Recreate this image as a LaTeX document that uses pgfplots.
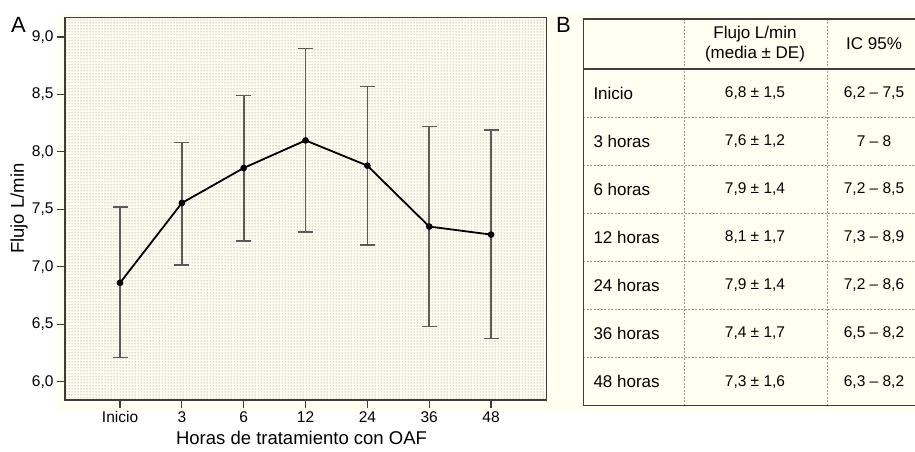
\documentclass[border=0pt]{standalone}
\usepackage{fontspec}
\setmainfont{Liberation Sans}
\usepackage{pgfplots}
\usepackage{pgfplotstable}
\pgfplotsset{compat=1.18}
\usetikzlibrary{patterns}

\definecolor{crema}{RGB}{255,255,242}
\definecolor{linea}{RGB}{60,60,60}
\definecolor{barra}{RGB}{90,90,90}
\definecolor{punteo}{RGB}{150,150,150}
\definecolor{puntos}{RGB}{115,115,110}

% media, error hacia arriba, error hacia abajo (L/min)
\pgfplotstableread{
x  y      ep     em
0  6.86   0.66   0.65
1  7.555  0.525  0.54
2  7.86   0.63   0.635
3  8.10   0.80   0.80
4  7.88   0.69   0.69
5  7.35   0.87   0.87
6  7.28   0.91   0.905
}\flujo

\newcommand{\fsTick}{\fontsize{15.5}{18}\selectfont}
\newcommand{\fsLab}{\fontsize{18.5}{21}\selectfont}
\newcommand{\fsTab}{\fontsize{17}{20}\selectfont}
\newcommand{\fsNum}{\fontsize{15.5}{18}\selectfont}

\begin{document}
\begin{tikzpicture}
\useasboundingbox (0,0) rectangle (915pt,452pt);
\fill[crema] (57pt,40pt) rectangle (915pt,439pt);

\begin{axis}[
  at={(65pt,52pt)}, anchor=south west,
  scale only axis, width=481.7pt, height=382.5pt,
  xmin=-0.89, xmax=6.9, ymin=5.84, ymax=9.17,
  axis background/.style={fill=crema, postaction={pattern=dots, pattern color=puntos}},
  axis line style={draw=linea, line width=1.2pt},
  tick style={draw=linea, line width=1.2pt},
  tick align=outside, major tick length=8pt,
  xtick pos=bottom, ytick pos=left,
  xtick={0,...,6}, xticklabels={Inicio,3,6,12,24,36,48},
  ytick={6,6.5,...,9},
  yticklabel style={/pgf/number format/.cd, use comma, fixed, fixed zerofill, precision=1, assume math mode=true},
  tick label style={font=\fsTick},
  xlabel={Horas de tratamiento con OAF},
  ylabel={Flujo L/min},
  every axis x label/.style={at={(axis description cs:0.491,-0.0993)}, anchor=center, font=\fsLab},
  every axis y label/.style={at={(axis description cs:-0.0955,0.5)}, rotate=90, anchor=center, font=\fsLab},
]
\addplot[draw=none, mark=none, forget plot,
  error bars/.cd, y dir=both, y explicit,
  error bar style={draw=barra, line width=1.6pt},
  error mark options={rotate=90, mark size=7.5pt, draw=barra, line width=1.6pt}]
  table[x=x, y=y, y error plus=ep, y error minus=em] {\flujo};
\addplot[black, line width=1.8pt, mark=*, mark size=2.9pt,
  mark options={fill=black, line width=0.8pt}]
  table[x=x, y=y] {\flujo};
\end{axis}

% letras de panel
\node[anchor=base west, inner sep=0pt, font=\fontsize{22}{24}\selectfont] at (11pt,419pt) {A};
\node[anchor=base west, inner sep=0pt, font=\fontsize{22}{24}\selectfont] at (556pt,419pt) {B};

% tabla
\begin{scope}
\foreach \yy in {334.9,286.8,238.7,190.6,142.5,94.4}
  \draw[punteo, line width=0.8pt, dash pattern=on 2pt off 1.5pt] (583.3pt,\yy pt) -- (930pt,\yy pt);
\foreach \xx in {684.3,827.3}
  \draw[punteo, line width=0.8pt, dash pattern=on 2pt off 1.5pt] (\xx pt,433pt) -- (\xx pt,46.3pt);
\draw[linea, line width=1.3pt] (930pt,433pt) -- (583.3pt,433pt) -- (583.3pt,46.3pt) -- (930pt,46.3pt);
\draw[linea, line width=1.3pt] (583.3pt,383pt) -- (930pt,383pt);

\node[align=center, font=\fsTab, inner sep=0pt] at (755pt,408pt) {Flujo L/min\\(media ± DE)};
\node[font=\fsTab, inner sep=0pt] at (874pt,408pt) {IC 95\%};

\foreach \fila/\yy/\med/\ic in {
  Inicio/358.95/{6,8 ± 1,5}/{6,2 – 7,5},
  3 horas/310.85/{7,6 ± 1,2}/{7 – 8},
  6 horas/262.75/{7,9 ± 1,4}/{7,2 – 8,5},
  12 horas/214.65/{8,1 ± 1,7}/{7,3 – 8,9},
  24 horas/166.55/{7,9 ± 1,4}/{7,2 – 8,6},
  36 horas/118.45/{7,4 ± 1,7}/{6,5 – 8,2},
  48 horas/70.35/{7,3 ± 1,6}/{6,3 – 8,2}}{
  \node[anchor=west, font=\fsTab, inner sep=0pt] at (593.3pt,\yy pt) {\fila};
  \node[font=\fsNum, inner sep=0pt] at (755pt,\yy pt) {\med};
  \node[font=\fsNum, inner sep=0pt] at (874pt,\yy pt) {\ic};
}
\end{scope}
\end{tikzpicture}
\end{document}
